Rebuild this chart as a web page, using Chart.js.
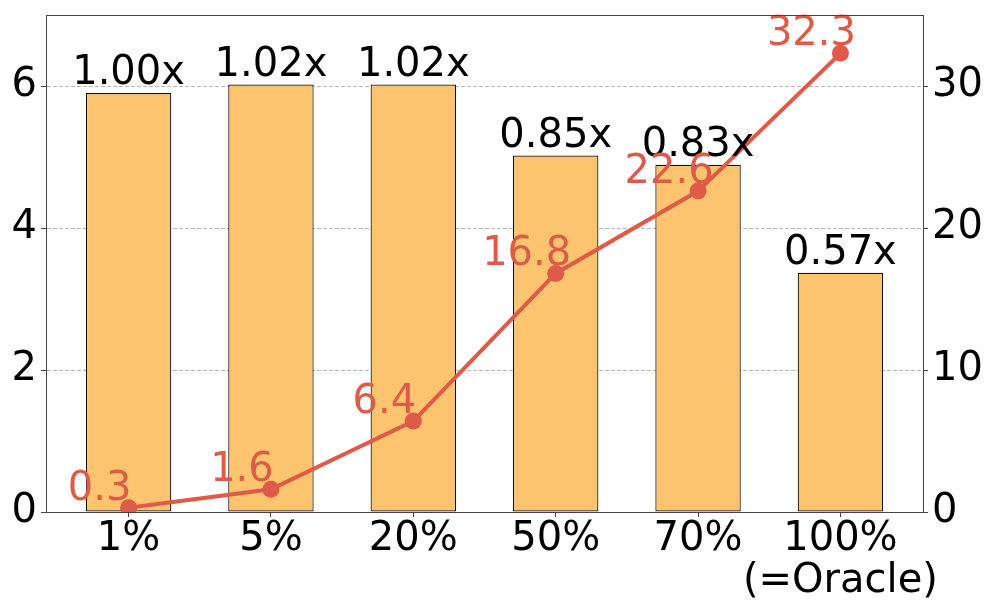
<!DOCTYPE html>
<html>
<head>
<meta charset="utf-8">
<script src="https://cdn.jsdelivr.net/npm/chart.js@4"></script>
<style>
  html, body { margin: 0; padding: 0; background: #fff; }
  #wrap { width: 997px; height: 613px; }
</style>
</head>
<body>
<div id="wrap"><canvas id="chart" width="997" height="613"></canvas></div>
<script>
// data
const categories = ["1%", "5%", "20%", "50%", "70%", ["100%", "(=Oracle)"]];
const barValues = [5.90, 6.02, 6.02, 5.02, 4.89, 3.37];
const barLabels = ["1.00x", "1.02x", "1.02x", "0.85x", "0.83x", "0.57x"];
const lineValues = [0.3, 1.6, 6.4, 16.8, 22.6, 32.3];
const leftTicks = [0, 2, 4, 6];
const rightTicks = [0, 10, 20, 30];

const FONT = "'DejaVu Sans', sans-serif";
const barColor = "#FDC46F";
const lineColor = "#DF5A47";

// labels on top of bars and next to the points
const labelPlugin = {
  id: "labels",
  afterDatasetsDraw(chart) {
    const ctx = chart.ctx;
    ctx.save();
    ctx.font = "40px " + FONT;
    ctx.textAlign = "center";
    ctx.textBaseline = "alphabetic";

    const bars = chart.getDatasetMeta(0).data;
    ctx.fillStyle = "#000";
    bars.forEach((el, i) => {
      ctx.fillText(barLabels[i], el.x, el.y - 9);
    });

    const pts = chart.getDatasetMeta(1).data;
    ctx.fillStyle = lineColor;
    pts.forEach((el, i) => {
      ctx.fillText(lineValues[i].toFixed(1), el.x - 29, el.y - 8);
    });
    ctx.restore();
  },
  afterDraw(chart) {
    // axes frame
    const a = chart.chartArea;
    const ctx = chart.ctx;
    ctx.save();
    ctx.strokeStyle = "#444";
    ctx.lineWidth = 1;
    ctx.strokeRect(Math.round(a.left) + 0.5, Math.round(a.top) + 0.5,
      Math.round(a.right - a.left), Math.round(a.bottom - a.top));
    ctx.restore();
  }
};

function noPad(scale) {
  scale.paddingTop = 0;
  scale.paddingBottom = 0;
  scale.paddingLeft = 0;
  scale.paddingRight = 0;
}

const ctx = document.getElementById("chart");

new Chart(ctx, {
  type: "bar",
  data: {
    datasets: [
      {
        type: "bar",
        data: barValues.map((v, i) => ({ x: i, y: v })),
        backgroundColor: barColor,
        borderColor: "#111",
        borderWidth: 1.2,
        borderSkipped: false,
        barPercentage: 0.6,
        categoryPercentage: 1,
        yAxisID: "y",
        order: 2
      },
      {
        type: "line",
        data: lineValues.map((v, i) => ({ x: i, y: v })),
        borderColor: lineColor,
        backgroundColor: lineColor,
        borderWidth: 4,
        pointRadius: 8.5,
        pointHoverRadius: 8.5,
        pointBorderWidth: 0,
        tension: 0,
        yAxisID: "y2",
        order: 1
      }
    ]
  },
  plugins: [labelPlugin],
  options: {
    responsive: false,
    animation: false,
    layout: { padding: { top: 15, left: 0, right: 0, bottom: 0 } },
    plugins: {
      legend: { display: false },
      tooltip: { enabled: false }
    },
    scales: {
      x: {
        type: "linear",
        offset: false,
        min: -0.58,
        max: 5.58,
        afterBuildTicks(scale) {
          scale.ticks = categories.map((c, i) => ({ value: i }));
        },
        afterFit(scale) { scale.height = 101; noPad(scale); },
        ticks: {
          autoSkip: false,
          maxRotation: 0,
          color: "#000",
          padding: 2,
          font: { family: FONT, size: 40, lineHeight: 1.05 },
          callback: (v) => categories[v]
        },
        grid: {
          offset: false,
          drawOnChartArea: false,
          tickLength: 5,
          tickColor: "#444"
        },
        border: { color: "#444" }
      },
      y: {
        position: "left",
        min: 0,
        max: 7,
        afterBuildTicks(scale) {
          scale.ticks = leftTicks.map(v => ({ value: v }));
        },
        afterFit(scale) { scale.width = 46; noPad(scale); },
        ticks: {
          color: "#000",
          padding: 4,
          font: { family: FONT, size: 40 }
        },
        grid: {
          color: "#b8b8b8",
          lineWidth: 1,
          tickLength: 5,
          tickColor: "#444"
        },
        border: { color: "#444", dash: [4, 2] }
      },
      y2: {
        position: "right",
        min: 0,
        max: 35,
        afterBuildTicks(scale) {
          scale.ticks = rightTicks.map(v => ({ value: v }));
        },
        afterFit(scale) { scale.width = 74; noPad(scale); },
        ticks: {
          color: "#000",
          padding: 4,
          font: { family: FONT, size: 40 }
        },
        grid: {
          drawOnChartArea: false,
          tickLength: 5,
          tickColor: "#444"
        },
        border: { color: "#444" }
      }
    }
  }
});
</script>
</body>
</html>
